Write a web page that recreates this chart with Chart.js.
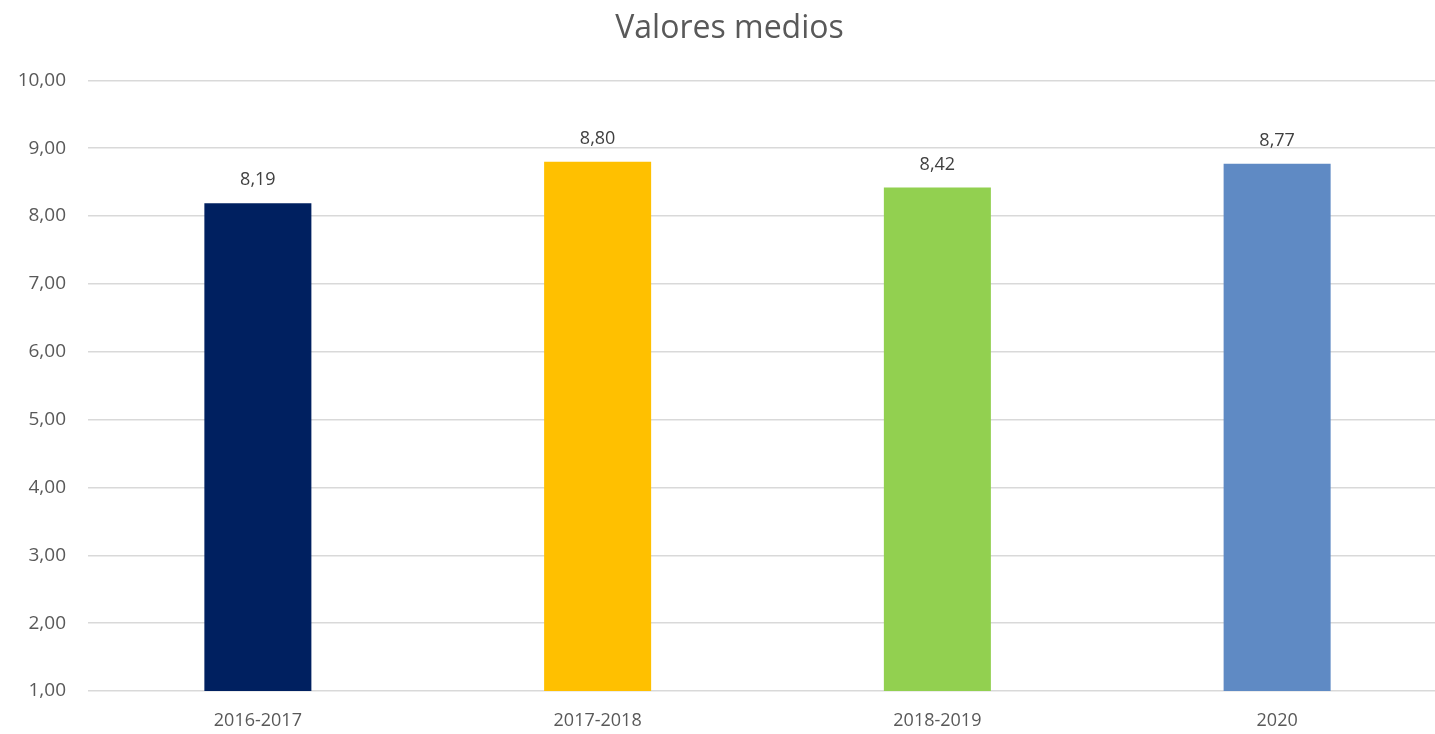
<!DOCTYPE html>
<html>
<head>
<meta charset="utf-8">
<script src="https://cdn.jsdelivr.net/npm/chart.js@4"></script>
<style>
  html, body { margin: 0; padding: 0; background: #fff; overflow: hidden; }
  #wrap { width: 1447px; height: 734px; }
</style>
</head>
<body>
<div id="wrap"><canvas id="myBarChart"></canvas></div>
<script>
// chart values
const categories = ['2016-2017', '2017-2018', '2018-2019', '2020'];
const values = [8.19, 8.80, 8.42, 8.77];
const barColors = ['#002060', '#FFC000', '#92D050', '#5F8AC4'];
const yMin = 1;
const yMax = 10;

const fmt = v => v.toFixed(2).replace('.', ',');
const textColor = '#595959';
const fontFamily = '"Open Sans", "Noto Sans", sans-serif';

// draws the value above each bar
const valueLabels = {
    id: 'valueLabels',
    afterDatasetsDraw(chart) {
        const ctx = chart.ctx;
        const meta = chart.getDatasetMeta(0);
        ctx.save();
        ctx.font = '18px ' + fontFamily;
        ctx.fillStyle = '#404040';
        ctx.textAlign = 'center';
        ctx.textBaseline = 'middle';
        meta.data.forEach((bar, i) => {
            ctx.fillText(fmt(values[i]), bar.x, bar.y - 23);
        });
        ctx.restore();
    }
};

const ctx = document.getElementById('myBarChart').getContext('2d');
new Chart(ctx, {
    type: 'bar',
    data: {
        labels: categories,
        datasets: [{
            data: values,
            backgroundColor: barColors,
            borderWidth: 0,
            categoryPercentage: 1,
            barPercentage: 0.315
        }]
    },
    options: {
        responsive: true,
        maintainAspectRatio: false,
        animation: false,
        layout: { padding: { top: 0, right: 0, bottom: 0, left: 12 } },
        plugins: {
            legend: { display: false },
            tooltip: { enabled: false },
            title: {
                display: true,
                text: 'Valores medios',
                color: textColor,
                font: { family: fontFamily, size: 32, weight: 'normal' },
                padding: { top: 10, bottom: 32 }
            }
        },
        scales: {
            x: {
                grid: { display: false, drawTicks: false },
                border: { display: false },
                ticks: {
                    color: textColor,
                    font: { family: fontFamily, size: 18 },
                    padding: 19
                },
                afterFit: s => { s.height = 43; }
            },
            y: {
                min: yMin,
                max: yMax,
                grid: { color: '#d9d9d9', lineWidth: 1.5, drawTicks: false },
                border: { display: false },
                ticks: {
                    stepSize: 1,
                    color: textColor,
                    font: { family: fontFamily, size: 19 },
                    padding: 22,
                    callback: v => fmt(v)
                },
                afterFit: s => { s.width = 76; }
            }
        }
    },
    plugins: [valueLabels]
});
</script>
</body>
</html>
